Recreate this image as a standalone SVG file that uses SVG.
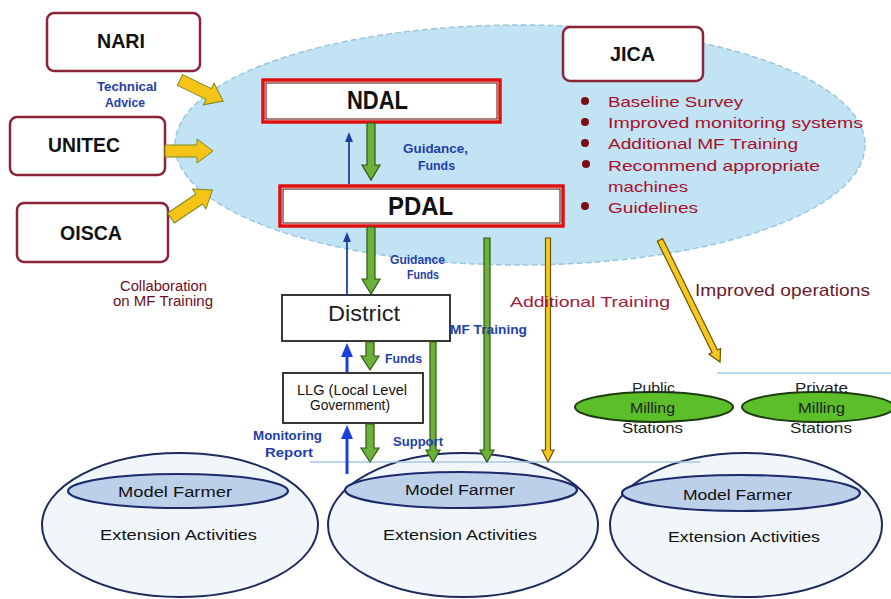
<svg xmlns="http://www.w3.org/2000/svg" width="891" height="599" viewBox="0 0 891 599">
<style>
text{font-family:"Liberation Sans",Arial,sans-serif}
.org{fill:#fff;stroke:#8a2436;stroke-width:2.5}
.orgt{font-weight:bold;font-size:20px;fill:#111;text-anchor:start}
.lvl{fill:#fff;stroke:#e01010;stroke-width:3.5}
.lvlin{fill:none;stroke:#5a0000;stroke-width:1}
.big{font-weight:bold;font-size:25px;fill:#111}
.box{fill:#fff;stroke:#222;stroke-width:1.8}
.blue{fill:#1f3fa8;font-weight:bold;font-size:12px}
.dred{fill:#6a0f1e;font-size:14px}
.bul{fill:#a8102a;font-size:14.5px}
.dot{fill:#7a0c18}
.garr{fill:#6cb13a;stroke:#2e5a12;stroke-width:1.2}
.yarr{fill:#f5c81e;stroke:#6e5200;stroke-width:1.2}
.yblk{fill:#f6c416;stroke:#7a8a20;stroke-width:1}
.thin{stroke:#1f3f9e;stroke-width:1.8;fill:none}
.thick{stroke:#1f3fdc;stroke-width:3;fill:none}
.outer{fill:#f1f6fb;stroke:#1c2a5c;stroke-width:2}
.inner{fill:#bcd0ea;stroke:#1c2a6c;stroke-width:2.2}
.mf{font-size:14px;fill:#111}
.mill{fill:#5cbf2a;stroke:#1d3a10;stroke-width:2}
.millt{font-size:14px;fill:#222}
</style>
<defs>
<marker id="ah" markerUnits="userSpaceOnUse" markerWidth="10" markerHeight="10" refX="5" refY="5" orient="auto">
<path d="M0,1 L10,5 L0,9 Z" fill="#1f3f9e"/>
</marker>
<marker id="ahb" markerUnits="userSpaceOnUse" markerWidth="14" markerHeight="14" refX="7" refY="7" orient="auto">
<path d="M0,1 L14,7 L0,13 Z" fill="#1f3fdc"/>
</marker>
</defs>

<g id="cloud">
<ellipse cx="520" cy="145" rx="345" ry="120" fill="#c2e3f4" stroke="#9cc6de" stroke-width="1.5" stroke-dasharray="6 3"/>
</g>

<g id="nari"><rect class="org" x="47" y="13" width="153" height="58" rx="7"/><text class="orgt" x="97" y="48" textLength="48" lengthAdjust="spacingAndGlyphs">NARI</text></g>
<g id="unitec"><rect class="org" x="10" y="117" width="155" height="58" rx="7"/><text class="orgt" x="48" y="152" textLength="72" lengthAdjust="spacingAndGlyphs">UNITEC</text></g>
<g id="oisca"><rect class="org" x="17" y="203" width="151" height="59" rx="7"/><text class="orgt" x="60" y="240" textLength="62" lengthAdjust="spacingAndGlyphs">OISCA</text></g>
<g id="jica"><rect class="org" x="563" y="27" width="140" height="54" rx="7"/><text class="orgt" x="610" y="61" font-size="17" textLength="45" lengthAdjust="spacingAndGlyphs">JICA</text></g>

<g id="ndal"><rect class="lvl" x="263" y="80" width="237" height="42"/><rect class="lvlin" x="266" y="83" width="231" height="36"/><text class="big" x="347" y="109" textLength="61" lengthAdjust="spacingAndGlyphs">NDAL</text></g>
<g id="pdal"><rect class="lvl" x="280" y="186" width="283" height="40"/><rect class="lvlin" x="283" y="189" width="277" height="34"/><text class="big" x="388" y="215" textLength="65" lengthAdjust="spacingAndGlyphs">PDAL</text></g>
<g id="district"><rect class="box" x="282" y="295" width="168" height="46"/><text x="328" y="321" font-size="22" fill="#222" textLength="72" lengthAdjust="spacingAndGlyphs">District</text></g>
<g id="llg"><rect class="box" x="283" y="373" width="140" height="50"/><text x="297" y="395" font-size="14" fill="#111" textLength="110" lengthAdjust="spacingAndGlyphs">LLG (Local Level</text><text x="310" y="410" font-size="14" fill="#111" textLength="80" lengthAdjust="spacingAndGlyphs">Government)</text></g>

<g id="jica-list">
<circle class="dot" cx="585" cy="101" r="4"/><text class="bul" x="608" y="107" textLength="135" lengthAdjust="spacingAndGlyphs">Baseline Survey</text>
<circle class="dot" cx="585" cy="122" r="4"/><text class="bul" x="608" y="128" textLength="255" lengthAdjust="spacingAndGlyphs">Improved monitoring systems</text>
<circle class="dot" cx="585" cy="143" r="4"/><text class="bul" x="608" y="149" textLength="190" lengthAdjust="spacingAndGlyphs">Additional MF Training</text>
<circle class="dot" cx="586" cy="164" r="4"/><text class="bul" x="608" y="171" textLength="212" lengthAdjust="spacingAndGlyphs">Recommend appropriate</text>
<text class="bul" x="608" y="192" textLength="80" lengthAdjust="spacingAndGlyphs">machines</text>
<circle class="dot" cx="585" cy="206" r="4"/><text class="bul" x="608" y="213" textLength="90" lengthAdjust="spacingAndGlyphs">Guidelines</text>
</g>

<g id="milling-public"><ellipse class="mill" cx="654" cy="407" rx="79" ry="15"/><text class="millt" x="632" y="393" textLength="43" lengthAdjust="spacingAndGlyphs">Public</text><text class="millt" x="630" y="413" textLength="45" lengthAdjust="spacingAndGlyphs">Milling</text><text class="millt" x="622" y="433" textLength="61" lengthAdjust="spacingAndGlyphs">Stations</text></g>
<g id="milling-private"><ellipse class="mill" cx="818" cy="407" rx="76" ry="15"/><text class="millt" x="795" y="393" textLength="53" lengthAdjust="spacingAndGlyphs">Private</text><text class="millt" x="798" y="413" textLength="47" lengthAdjust="spacingAndGlyphs">Milling</text><text class="millt" x="790" y="433" textLength="62" lengthAdjust="spacingAndGlyphs">Stations</text></g>

<g id="farmer1"><ellipse class="outer" cx="180" cy="525" rx="138" ry="72"/><ellipse class="inner" cx="178" cy="491" rx="110" ry="17"/><text class="mf" x="118" y="497" textLength="114" lengthAdjust="spacingAndGlyphs">Model Farmer</text><text class="mf" x="100" y="540" textLength="157" lengthAdjust="spacingAndGlyphs">Extension Activities</text></g>
<g id="farmer2"><ellipse class="outer" cx="463" cy="525" rx="135" ry="72"/><ellipse class="inner" cx="461" cy="490" rx="116" ry="18"/><text class="mf" x="405" y="495" textLength="110" lengthAdjust="spacingAndGlyphs">Model Farmer</text><text class="mf" x="383" y="540" textLength="154" lengthAdjust="spacingAndGlyphs">Extension Activities</text></g>
<g id="farmer3"><ellipse class="outer" cx="746" cy="525" rx="136" ry="72"/><ellipse class="inner" cx="741" cy="493" rx="119" ry="18"/><text class="mf" x="683" y="500" textLength="109" lengthAdjust="spacingAndGlyphs">Model Farmer</text><text class="mf" x="668" y="542" textLength="152" lengthAdjust="spacingAndGlyphs">Extension Activities</text></g>

<g id="connectors">
<line x1="310" y1="462" x2="700" y2="462" stroke="#a8c8e4" stroke-width="1.5"/>
<line x1="717" y1="373" x2="891" y2="373" stroke="#a8c8e4" stroke-width="1.5"/>
<!-- yellow block arrows into the cloud -->
<path class="yblk" transform="translate(180,80) rotate(26)" d="M0,-6 H32 V-12 L48,0 L32,12 V6 H0 Z"/>
<path class="yblk" transform="translate(165,151) rotate(0)" d="M0,-6 H32 V-12 L48,0 L32,12 V6 H0 Z"/>
<path class="yblk" transform="translate(171,218) rotate(-34)" d="M0,-6 H34 V-12 L50,0 L34,12 V6 H0 Z"/>
<!-- green down arrows -->
<path class="garr" d="M367,123 H375 V165 H380 L371,180 L362,165 H367 Z"/>
<path class="garr" d="M367,227 H375 V279 H380 L371,294 L362,279 H367 Z"/>
<path class="garr" d="M366,342 H374 V356 H379 L370,370 L361,356 H366 Z"/>
<path class="garr" d="M366,424 H374 V448 H379 L370,462 L361,448 H366 Z"/>
<path class="garr" d="M430,342 H436 V450 H440 L433,462 L426,450 H430 Z"/>
<path class="garr" d="M484,238 H490 V450 H494 L487,462 L480,450 H484 Z"/>
<!-- yellow long arrows -->
<path class="yarr" d="M545.5,238 H550.5 V450 H554 L548,462 L542,450 H545.5 Z"/>
<path class="yarr" transform="translate(660,240) rotate(63.8)" d="M0,-3 H124 V-6.5 L136,0 L124,6.5 V3 H0 Z"/>
<!-- blue upward arrows -->
<line class="thin" x1="349" y1="184" x2="349" y2="137" marker-end="url(#ah)"/>
<line class="thin" x1="347" y1="295" x2="347" y2="237" marker-end="url(#ah)"/>
<line class="thick" x1="347" y1="372" x2="347" y2="350" marker-end="url(#ahb)"/>
<line class="thick" x1="347" y1="474" x2="347" y2="432" marker-end="url(#ahb)"/>
</g>

<g id="labels">
<text class="blue" x="97" y="91" textLength="60" lengthAdjust="spacingAndGlyphs">Technical</text>
<text class="blue" x="105" y="107" textLength="40" lengthAdjust="spacingAndGlyphs">Advice</text>
<text class="blue" x="403" y="153" textLength="65" lengthAdjust="spacingAndGlyphs">Guidance,</text>
<text class="blue" x="418" y="170" textLength="37" lengthAdjust="spacingAndGlyphs">Funds</text>
<text class="blue" x="390" y="264" textLength="55" lengthAdjust="spacingAndGlyphs">Guidance</text>
<text class="blue" x="407" y="279" textLength="32" lengthAdjust="spacingAndGlyphs">Funds</text>
<text class="dred" x="120" y="291" textLength="87" lengthAdjust="spacingAndGlyphs">Collaboration</text>
<text class="dred" x="113" y="306" textLength="100" lengthAdjust="spacingAndGlyphs">on MF Training</text>
<text class="blue" x="450" y="334" font-size="13" font-weight="normal" textLength="77" lengthAdjust="spacingAndGlyphs">MF Training</text>
<text class="blue" x="385" y="363" textLength="37" lengthAdjust="spacingAndGlyphs">Funds</text>
<text class="blue" x="253" y="440" textLength="69" lengthAdjust="spacingAndGlyphs">Monitoring</text>
<text class="blue" x="265" y="457" textLength="48" lengthAdjust="spacingAndGlyphs">Report</text>
<text class="blue" x="393" y="446" textLength="50" lengthAdjust="spacingAndGlyphs">Support</text>
<text x="510" y="307" font-size="15" fill="#a0203a" textLength="160" lengthAdjust="spacingAndGlyphs">Additional Training</text>
<text x="695" y="296" font-size="17" fill="#6a1a2a" textLength="175" lengthAdjust="spacingAndGlyphs">Improved operations</text>
</g>
</svg>
